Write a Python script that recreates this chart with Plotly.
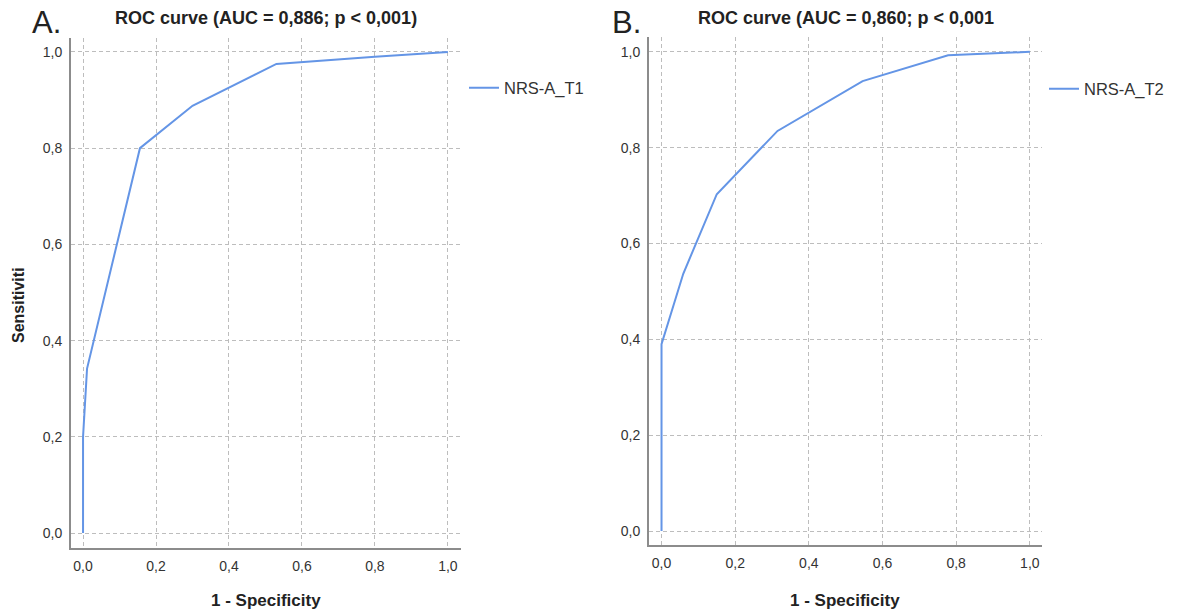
import plotly.graph_objects as go

# ---- data ----
fpr_t1 = [0.0, 0.0, 0.011, 0.156, 0.30, 0.53, 0.80, 1.0]
tpr_t1 = [0.0, 0.2, 0.342, 0.80, 0.888, 0.975, 0.99, 1.0]

fpr_t2 = [0.0, 0.0, 0.059, 0.150, 0.315, 0.546, 0.778, 1.0]
tpr_t2 = [0.0, 0.39, 0.537, 0.703, 0.835, 0.939, 0.993, 1.0]

tick_vals = [0.0, 0.2, 0.4, 0.6, 0.8, 1.0]
tick_text = ["0,0", "0,2", "0,4", "0,6", "0,8", "1,0"]

name_a = "NRS-A_T1"
name_b = "NRS-A_T2"
title_a = "ROC curve (AUC = 0,886; p < 0,001)"
title_b = "ROC curve (AUC = 0,860; p < 0,001"
panel_a = "A."
panel_b = "B."
x_title = "1 - Specificity"
y_title = "Sensitiviti"

W, H = 1182, 613
LINE = "#6495e6"
FONT = "Liberation Sans, Arial, sans-serif"

fig = go.Figure()
fig.add_trace(go.Scatter(x=fpr_t1, y=tpr_t1, mode="lines", name=name_a,
                         line=dict(color=LINE, width=2), xaxis="x", yaxis="y",
                         legend="legend"))
fig.add_trace(go.Scatter(x=fpr_t2, y=tpr_t2, mode="lines", name=name_b,
                         line=dict(color=LINE, width=2), xaxis="x2", yaxis="y2",
                         legend="legend2"))

def px_x(p):
    return p / W

def px_y(p):
    return 1 - p / H

axis_common = dict(
    tickvals=tick_vals, ticktext=tick_text, showgrid=True,
    gridcolor="#bdbdbd", griddash="4px,3px", gridwidth=1,
    zeroline=False, showline=True, linecolor="#8c8c8c", linewidth=2,
    ticks="", tickfont=dict(family=FONT, size=14, color="#333333"),
    mirror=False, fixedrange=True,
)

fig.update_layout(
    width=W, height=H, margin=dict(l=0, r=0, t=0, b=0),
    paper_bgcolor="white", plot_bgcolor="white",
    font=dict(family=FONT, color="#222222"),
    xaxis=dict(domain=[px_x(71), px_x(461)], range=[-0.033, 1.036],
               anchor="y", ticklabelstandoff=4, **axis_common),
    yaxis=dict(domain=[px_y(548), px_y(38)], range=[-0.031, 1.029],
               anchor="x", ticklabelstandoff=4, **axis_common),
    xaxis2=dict(domain=[px_x(649), px_x(1042)], range=[-0.034, 1.033],
                anchor="y2", ticklabelstandoff=4, **axis_common),
    yaxis2=dict(domain=[px_y(545), px_y(37)], range=[-0.029, 1.031],
                anchor="x2", ticklabelstandoff=4, **axis_common),
    legend=dict(x=px_x(464), y=px_y(88), xanchor="left", yanchor="middle",
                bgcolor="rgba(0,0,0,0)", borderwidth=0,
                font=dict(family=FONT, size=16.5, color="#333333")),
    legend2=dict(x=px_x(1044), y=px_y(89), xanchor="left", yanchor="middle",
                 bgcolor="rgba(0,0,0,0)", borderwidth=0,
                 font=dict(family=FONT, size=16.5, color="#333333")),
    showlegend=True,
)

ann = []
def add_text(text, x, y, size, bold=False, angle=0, xanchor="center"):
    ann.append(dict(text=f"<b>{text}</b>" if bold else text, x=px_x(x), y=px_y(y),
                    xref="paper", yref="paper", showarrow=False,
                    xanchor=xanchor, yanchor="middle", textangle=angle,
                    font=dict(family=FONT, size=size, color="#222222")))

add_text(title_a, 266, 18, 18, bold=True)
add_text(title_b, 846, 18, 18, bold=True)
add_text(x_title, 266, 600, 17, bold=True)
add_text(x_title, 845, 600, 17, bold=True)
add_text(y_title, 18, 305, 16, bold=True, angle=-90)
add_text(panel_a, 30, 22, 31, xanchor="left")
add_text(panel_b, 610, 22, 31, xanchor="left")
fig.update_layout(annotations=ann)

fig.write_html("out.html", config={"displayModeBar": False},
               post_script="document.body.style.margin='0';document.body.style.overflow='hidden';")
